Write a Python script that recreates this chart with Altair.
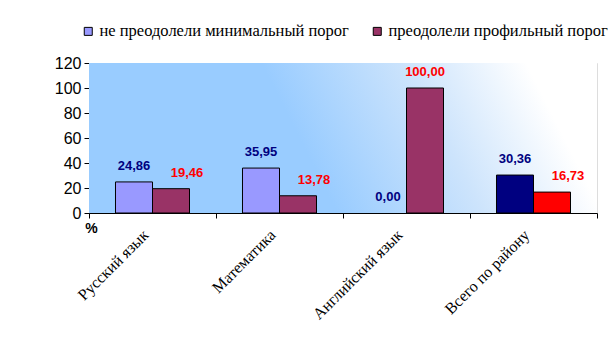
import altair as alt
import pandas as pd

categories = ["Русский язык", "Математика", "Английский язык", "Всего по району"]
series = ["не преодолели минимальный порог", "преодолели профильный порог"]
not_passed = [24.86, 35.95, 0.00, 30.36]
profile = [19.46, 13.78, 100.00, 16.73]
y_ticks = [0, 20, 40, 60, 80, 100, 120]

rows = []
for c, a, b in zip(categories, not_passed, profile):
    rows.append({"cat": c, "series": series[0], "value": a})
    rows.append({"cat": c, "series": series[1], "value": b})
df = pd.DataFrame(rows)

W, H = 508, 150
SERIF = "Liberation Serif"
SANS = "Arial"

x_enc = alt.X("cat:N", sort=categories, title=None,
              scale=alt.Scale(paddingInner=0, paddingOuter=0),
              axis=alt.Axis(labelAngle=-45, labelAlign="right", labelBaseline="middle",
                            labelFont=SERIF, labelFontSize=16, labelColor="black",
                            labelPadding=14, labelOffset=-7, tickBand="extent", tickSize=5,
                            tickColor="black", domainColor="black", labelOverlap=False))
xo_enc = alt.XOffset("series:N", sort=series,
                     scale=alt.Scale(paddingOuter=0.716, paddingInner=0))
y_enc = alt.Y("value:Q", scale=alt.Scale(domain=[0, 120], nice=False),
              axis=alt.Axis(values=y_ticks, grid=False, title="%", titleAngle=0,
                            titleX=2, titleY=H + 15, titleAlign="center", titleBaseline="middle",
                            titleFontSize=14, titleFontWeight="bold",
                            labelFontSize=16, labelColor="black",
                            tickSize=5, tickColor="black", domainColor="black", labelPadding=3))

background = alt.Chart(pd.DataFrame({"a": [0]})).mark_rect(
    color=alt.Gradient(
        gradient="linear",
        stops=[alt.GradientStop(color="#99CCFF", offset=0.42),
               alt.GradientStop(color="#CDE4FC", offset=0.7),
               alt.GradientStop(color="#FFFFFF", offset=0.93)],
        x1=0, y1=0.6, x2=1, y2=0.45),
).encode(x=alt.value(0), x2=alt.value(W), y=alt.value(0), y2=alt.value(H))

bars = alt.Chart(df).transform_filter(alt.datum.value > 0).mark_bar(stroke="black", strokeWidth=1).encode(
    x=x_enc, xOffset=xo_enc, y=y_enc,
    color=alt.Color("series:N", sort=series,
                    scale=alt.Scale(domain=series, range=["#9999FF", "#993366"]),
                    legend=alt.Legend(title=None, orient="none", direction="horizontal",
                                      legendX=-9, legendY=-40, symbolType="square",
                                      symbolSize=64, symbolStrokeColor="black",
                                      symbolStrokeWidth=1, symbolOpacity=1,
                                      labelFont=SERIF, labelFontSize=16.5,
                                      labelColor="black", labelOffset=3, columnPadding=20,
                                      labelLimit=400, padding=0),
                    condition=[
                        {"test": f"datum.cat == '{categories[3]}' && datum.series == '{series[0]}'", "value": "#000080"},
                        {"test": f"datum.cat == '{categories[3]}' && datum.series == '{series[1]}'", "value": "#FF0000"},
                    ]),
)

lab = alt.Chart(df).transform_calculate(
    label="replace(format(datum.value, '.2f'), '.', ',')"
)
text_kw = dict(fontSize=13, fontWeight="bold", baseline="alphabetic", dy=-12)
t1 = lab.transform_filter(alt.datum.series == series[0]).mark_text(color="#000080", **text_kw).encode(
    x=x_enc, xOffset=xo_enc, y=y_enc, text="label:N")
t2 = lab.transform_filter((alt.datum.series == series[1]) & (alt.datum.value < 100)).mark_text(
    color="#FF0000", dx=16, **text_kw).encode(x=x_enc, xOffset=xo_enc, y=y_enc, text="label:N")
t3 = lab.transform_filter((alt.datum.series == series[1]) & (alt.datum.value >= 100)).mark_text(
    color="#FF0000", **text_kw).encode(x=x_enc, xOffset=xo_enc, y=y_enc, text="label:N")

chart = alt.layer(background, bars, t1, t2, t3).properties(
    width=W, height=H,
    background="white",
    autosize=alt.AutoSizeParams(type="none"),
    padding={"left": 89, "top": 63, "right": 19, "bottom": 140},
).configure_view(stroke=None).configure(font=SANS).configure_axisX(labelFont=SERIF).configure_legend(labelFont=SERIF)

chart.save("out.html", embed_options={"renderer": "svg", "actions": False})
